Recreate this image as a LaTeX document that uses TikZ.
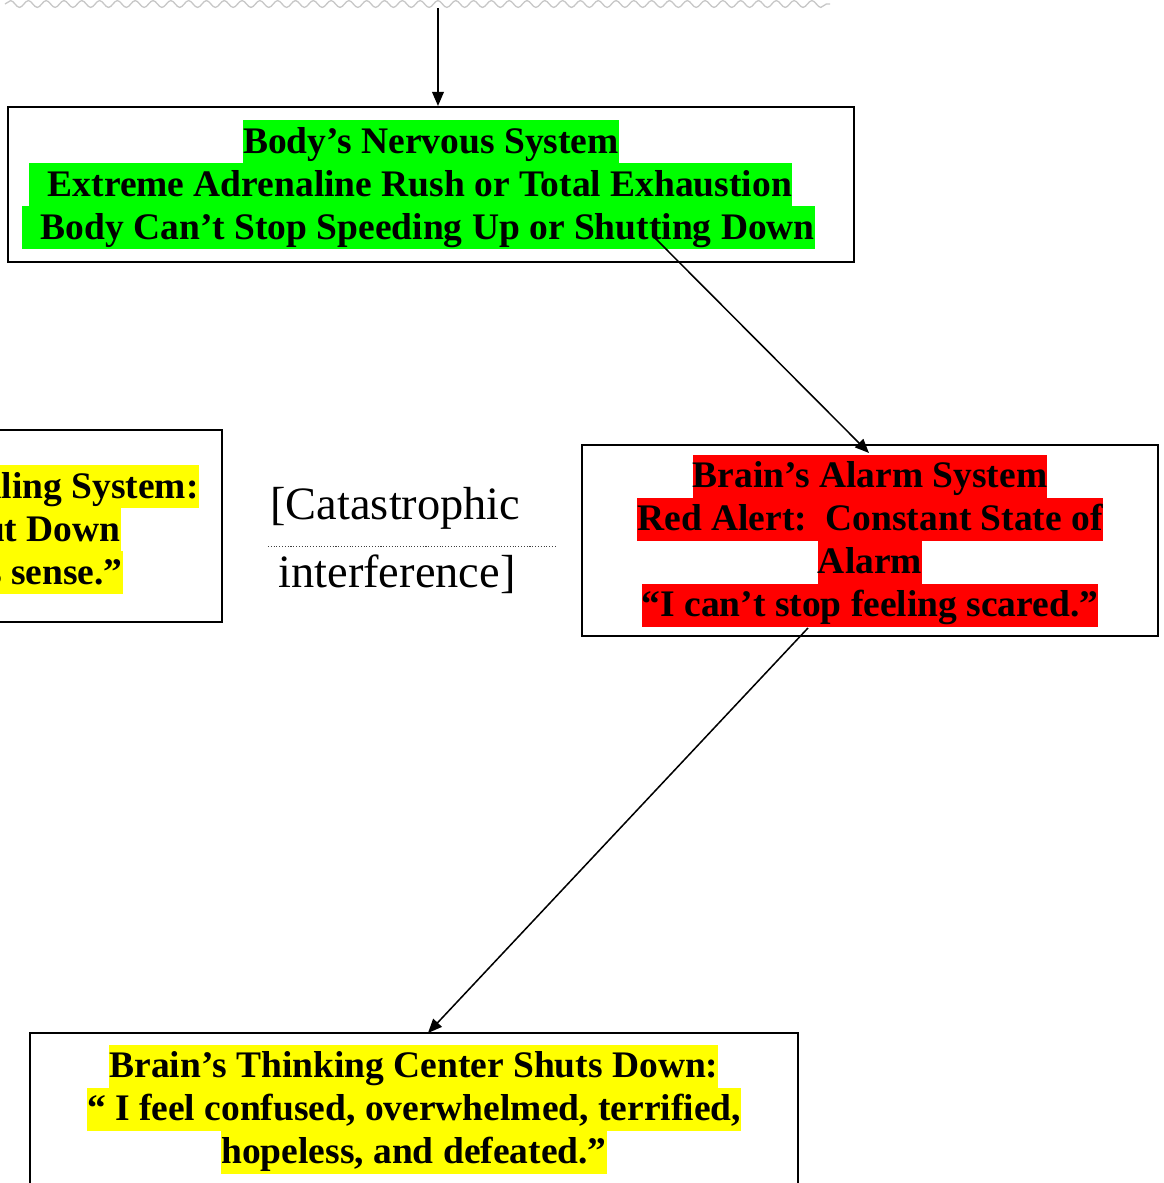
\documentclass[tikz,border=0pt]{standalone}
\usepackage{fontspec}
\setmainfont{Liberation Serif}
\usepackage{xcolor}
\usetikzlibrary{arrows.meta,decorations.pathmorphing}

\definecolor{hlgreen}{RGB}{0,255,0}
\definecolor{hlred}{RGB}{255,0,0}
\definecolor{hlyellow}{RGB}{255,255,0}
\setlength{\lineskiplimit}{-2pt}
\newcommand{\hlline}[2]{{\fboxsep=0pt\colorbox{#1}{\rule[-4.25pt]{0pt}{18.35pt}#2}}}

\begin{document}
\begin{tikzpicture}[scale=0.15]
\tikzstyle{every node}+=[inner sep=0pt]
\tikzstyle{box}=[draw=black,line width=0.85pt,rectangle,align=center,font=\bfseries\fontsize{16}{18.35}\selectfont]
\tikzstyle{partline}=[anchor=base east,font=\bfseries\fontsize{16}{18.35}\selectfont]
\tikzstyle{aside}=[anchor=base west,font=\fontsize{19.8}{23}\selectfont]
\tikzstyle{fall}=[line width=0.65pt,-{Triangle[length=6pt,width=5pt]}]
\useasboundingbox (0,0) rectangle (116.4,-118.3);
\clip (0,0) rectangle (116.4,-118.3);
\fill [white] (0,0) rectangle (116.4,-118.3);
% wavy border at the top
\draw [black!22,line width=0.55pt,decorate,decoration={snake,segment length=7.6pt,amplitude=1.45pt}] (0.5,-0.4) -- (83,-0.4);
% boxes
\node [box,minimum width=361.1pt,minimum height=66.2pt] (nervous) at (43.1,-18.45)
  {\hlline{hlgreen}{Body’s Nervous System}\\
   \hlline{hlgreen}{\ \ Extreme Adrenaline Rush or Total Exhaustion}\rule{17.5pt}{0pt}\\
   \hlline{hlgreen}{\ \ Body Can’t Stop Speeding Up or Shutting Down}\rule{10.7pt}{0pt}};
\node [box,minimum width=245.8pt,minimum height=81.9pt] (feeling) at (-6.6,-52.6) {};
\node [partline] (feelA) at (19.9,-49.8) {\hlline{hlyellow}{iling System:}};
\node [partline] (feelB) at (12.1,-54.1) {\hlline{hlyellow}{ut Down}};
\node [partline] (feelC) at (12.3,-58.4) {\hlline{hlyellow}{s sense.”}};
\node [box,minimum width=245.8pt,minimum height=81.9pt] (alarm) at (87.0,-54.05)
  {\hlline{hlred}{Brain’s Alarm System}\\
   \hlline{hlred}{Red Alert:\ \ Constant State of}\\
   \hlline{hlred}{Alarm}\\
   \hlline{hlred}{“I can’t stop feeling scared.”}};
\node [box,minimum width=327.8pt,minimum height=64.9pt] (thinking) at (41.4,-110.9)
  {\hlline{hlyellow}{Brain’s Thinking Center Shuts Down:}\\
   \hlline{hlyellow}{“ I feel confused, overwhelmed, terrified,}\\
   \hlline{hlyellow}{hopeless, and defeated.”}};
% note between the boxes
\node [aside] (catA) at (27.0,-51.9) {[Catastrophic};
\node [aside] (catB) at (27.8,-58.7) {interference]};
\coordinate (dotL) at (26.8,-54.65);
\coordinate (dotR) at (55.5,-54.65);
\draw [black!75,line width=0.5pt,dash pattern=on 0.45pt off 0.75pt] (dotL) -- (dotR);
% arrows
\coordinate (top) at (43.8,-0.8);
\coordinate (fromNerv) at (65.5,-23.8);
\coordinate (toAlarm) at (86.9,-45.3);
\coordinate (fromAlarm) at (80.8,-62.8);
\coordinate (toThink) at (42.8,-103.3);
\draw [fall] (top) -- (top |- nervous.north);
\draw [fall] (fromNerv) -- (toAlarm);
\draw [fall] (fromAlarm) -- (toThink);
\end{tikzpicture}
\end{document}
